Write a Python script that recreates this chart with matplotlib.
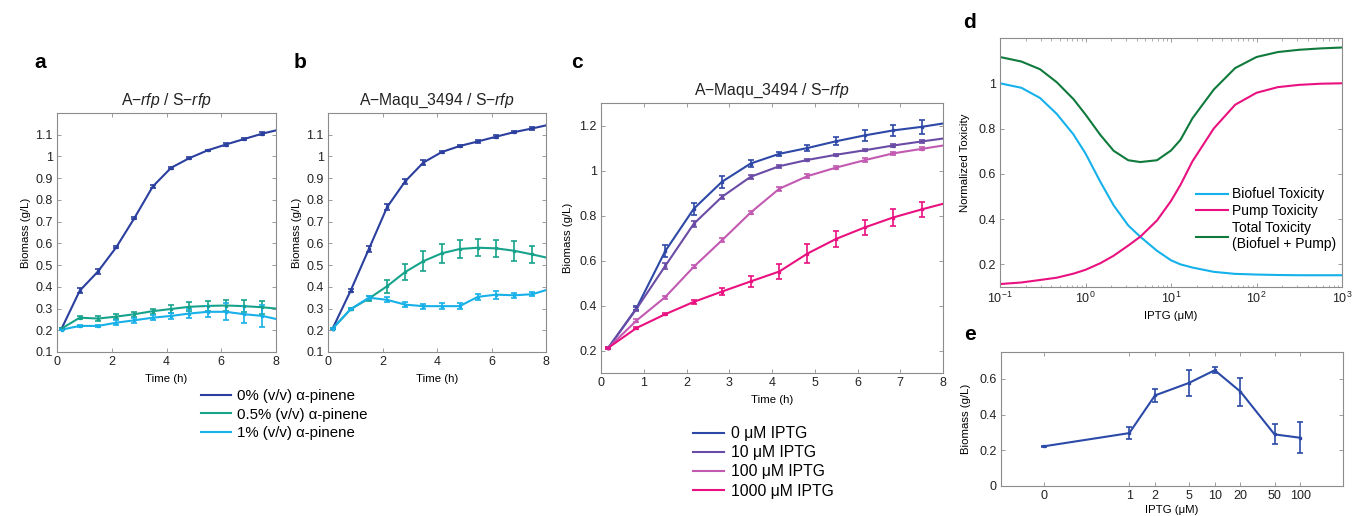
import numpy as np
import matplotlib.pyplot as plt
from matplotlib.ticker import FuncFormatter, NullLocator

plt.rcParams['font.family'] = ['Liberation Sans', 'DejaVu Sans']
plt.rcParams['mathtext.fontset'] = 'custom'
plt.rcParams['mathtext.rm'] = 'Liberation Sans'
plt.rcParams['mathtext.it'] = 'Liberation Sans:italic'
plt.rcParams['mathtext.bf'] = 'Liberation Sans:bold'

# sampling times (h) and the value where the fitted line meets the right edge
t = [0.17, 0.83, 1.5, 2.17, 2.83, 3.5, 4.17, 4.83, 5.5, 6.17, 6.83, 7.5]
t_end = 8.0

# panel a: A-rfp / S-rfp
a_p0 = [0.208, 0.382, 0.471, 0.583, 0.717, 0.862, 0.948, 0.992, 1.028, 1.055, 1.080, 1.105]
a_p0_end = 1.12
a_p0_err = [0.004, 0.012, 0.010, 0.006, 0.006, 0.005, 0.005, 0.004, 0.004, 0.005, 0.005, 0.006]
a_p05 = [0.208, 0.258, 0.254, 0.263, 0.274, 0.288, 0.298, 0.308, 0.312, 0.314, 0.311, 0.306]
a_p05_end = 0.300
a_p05_err = [0.004, 0.008, 0.010, 0.012, 0.012, 0.012, 0.017, 0.020, 0.025, 0.025, 0.027, 0.030]
a_p1 = [0.203, 0.220, 0.220, 0.235, 0.246, 0.258, 0.266, 0.277, 0.285, 0.285, 0.274, 0.266]
a_p1_end = 0.252
a_p1_err = [0.004, 0.006, 0.006, 0.010, 0.012, 0.012, 0.015, 0.022, 0.025, 0.040, 0.040, 0.050]

# panel b: A-Maqu_3494 / S-rfp
b_p0 = [0.208, 0.382, 0.574, 0.767, 0.885, 0.972, 1.020, 1.048, 1.069, 1.091, 1.112, 1.129]
b_p0_end = 1.143
b_p0_err = [0.004, 0.006, 0.012, 0.012, 0.012, 0.010, 0.006, 0.006, 0.006, 0.007, 0.006, 0.006]
b_p05 = [0.208, 0.297, 0.346, 0.403, 0.468, 0.518, 0.554, 0.574, 0.580, 0.577, 0.566, 0.549]
b_p05_end = 0.535
b_p05_err = [0.004, 0.005, 0.010, 0.030, 0.037, 0.045, 0.045, 0.040, 0.040, 0.040, 0.045, 0.040]
b_p1 = [0.208, 0.297, 0.350, 0.340, 0.318, 0.311, 0.311, 0.311, 0.354, 0.364, 0.361, 0.366]
b_p1_end = 0.385
b_p1_err = [0.004, 0.005, 0.010, 0.012, 0.012, 0.012, 0.013, 0.013, 0.015, 0.018, 0.012, 0.010]

pinene_labels = ['0% (v/v) \u03b1-pinene', '0.5% (v/v) \u03b1-pinene', '1% (v/v) \u03b1-pinene']
pinene_colors = ['#2b3f9e', '#17a38b', '#17b0e8']

# panel c: IPTG induction
c_0 = [0.212, 0.388, 0.641, 0.830, 0.950, 1.031, 1.074, 1.100, 1.130, 1.156, 1.178, 1.194]
c_0_end = 1.209
c_0_err = [0.005, 0.010, 0.026, 0.027, 0.027, 0.016, 0.010, 0.013, 0.018, 0.024, 0.026, 0.030]
c_10 = [0.212, 0.385, 0.575, 0.763, 0.883, 0.972, 1.019, 1.047, 1.070, 1.090, 1.111, 1.129]
c_10_end = 1.142
c_10_err = [0.005, 0.008, 0.012, 0.012, 0.010, 0.008, 0.006, 0.005, 0.005, 0.005, 0.005, 0.006]
c_100 = [0.212, 0.333, 0.437, 0.572, 0.690, 0.813, 0.919, 0.975, 1.013, 1.046, 1.076, 1.096]
c_100_end = 1.111
c_100_err = [0.005, 0.007, 0.006, 0.006, 0.008, 0.006, 0.008, 0.008, 0.008, 0.008, 0.008, 0.007]
c_1000 = [0.212, 0.300, 0.361, 0.416, 0.462, 0.507, 0.551, 0.631, 0.696, 0.747, 0.791, 0.827]
c_1000_end = 0.852
c_1000_err = [0.005, 0.004, 0.004, 0.010, 0.016, 0.024, 0.035, 0.044, 0.035, 0.033, 0.037, 0.033]

iptg_labels = ['0 \u03bcM IPTG', '10 \u03bcM IPTG', '100 \u03bcM IPTG', '1000 \u03bcM IPTG']
iptg_colors = ['#2d48a6', '#6a4ba6', '#c25ab2', '#e9117f']

# panel d: toxicity model
d_iptg = [0.1, 0.178, 0.294, 0.46, 0.723, 1, 1.49, 2.13, 3.16, 4.37, 6.86, 10, 12.9,
          17.8, 31.6, 56.2, 100, 178, 316, 562, 1000]
d_biofuel = [1.0, 0.98, 0.935, 0.865, 0.774, 0.69, 0.565, 0.461, 0.372, 0.322, 0.26, 0.218, 0.20,
             0.186, 0.167, 0.158, 0.155, 0.153, 0.152, 0.152, 0.152]
d_pump = [0.113, 0.12, 0.131, 0.141, 0.159, 0.176, 0.205, 0.238, 0.283, 0.322, 0.394, 0.48, 0.551,
          0.655, 0.80, 0.905, 0.958, 0.983, 0.993, 0.998, 1.0]
d_total = [1.116, 1.096, 1.062, 1.005, 0.93, 0.862, 0.772, 0.702, 0.66, 0.652, 0.66, 0.703, 0.75,
           0.845, 0.972, 1.067, 1.116, 1.138, 1.148, 1.154, 1.158]
d_labels = ['Biofuel Toxicity', 'Pump Toxicity', 'Total Toxicity\n(Biofuel + Pump)']
d_colors = ['#15b1ea', '#e9117f', '#0f7a3c']

# panel e: biomass vs IPTG
e_iptg = [0, 1, 2, 5, 10, 20, 50, 100]
e_biomass = [0.222, 0.296, 0.507, 0.577, 0.648, 0.528, 0.289, 0.270]
e_err = [0.003, 0.035, 0.037, 0.074, 0.017, 0.078, 0.056, 0.088]

W, H = 1353, 516
fig = plt.figure(figsize=(W / 100, H / 100), dpi=100)


def make_ax(left, right, top, bottom):
    ax = fig.add_axes([left / W, 1 - bottom / H, (right - left) / W, (bottom - top) / H])
    for s in ax.spines.values():
        s.set_color('#8c8c8c')
        s.set_linewidth(0.8)
    ax.tick_params(direction='in', top=True, right=True, length=3, width=0.6,
                   color='#8c8c8c', labelsize=9, labelcolor='#222222', pad=3)
    ax.tick_params(which='minor', direction='in', top=True, right=True, length=1.8,
                   width=0.5, color='#8c8c8c')
    return ax


gfmt = FuncFormatter(lambda v, p: f'{round(v, 3):g}')
LAB = 8.2


def growth(ax, vals, end, err, color):
    ax.plot(t + [t_end], vals + [end], color=color, lw=1.5)
    ax.errorbar(t, vals, yerr=err, fmt='s', ms=1.6, color=color, capsize=2.2,
                elinewidth=1.2, capthick=1.2)


# a and b
for left, right, title, sets in [
    (57, 276, 'A\u2212$\\it{rfp}$ / S\u2212$\\it{rfp}$',
     [(a_p0, a_p0_end, a_p0_err), (a_p05, a_p05_end, a_p05_err), (a_p1, a_p1_end, a_p1_err)]),
    (328, 546, 'A\u2212Maqu_3494 / S\u2212$\\it{rfp}$',
     [(b_p0, b_p0_end, b_p0_err), (b_p05, b_p05_end, b_p05_err), (b_p1, b_p1_end, b_p1_err)]),
]:
    ax = make_ax(left, right, 113, 352)
    for (v, e_, er), col in zip(sets, pinene_colors):
        growth(ax, v, e_, er, col)
    ax.set_xlim(0, 8)
    ax.set_ylim(0.1, 1.2)
    ax.set_xticks([0, 2, 4, 6, 8])
    ax.set_yticks(np.arange(1, 12) / 10)
    ax.yaxis.set_major_formatter(gfmt)
    ax.set_title(title, fontsize=11.3, pad=6, color='#222222')
    ax.set_xlabel('Time (h)', fontsize=LAB, labelpad=4)
    ax.set_ylabel('Biomass (g/L)', fontsize=LAB, labelpad=3)

pin_handles = [plt.Line2D([], [], color=c, lw=1.5) for c in pinene_colors]
fig.legend(pin_handles, pinene_labels, loc='upper left', bbox_to_anchor=(201 / W, 1 - 389 / H),
           frameon=False, fontsize=10.8, handlelength=2.0, handletextpad=0.4,
           labelspacing=0.3, borderpad=0, borderaxespad=0)

# c
ax = make_ax(601, 943, 103, 373)
for v, e_, er, col in zip([c_0, c_10, c_100, c_1000], [c_0_end, c_10_end, c_100_end, c_1000_end],
                          [c_0_err, c_10_err, c_100_err, c_1000_err], iptg_colors):
    growth(ax, v, e_, er, col)
ax.set_xlim(0, 8)
ax.set_ylim(0.1, 1.3)
ax.set_xticks(range(9))
ax.set_yticks([0.2, 0.4, 0.6, 0.8, 1.0, 1.2])
ax.yaxis.set_major_formatter(gfmt)
ax.set_title('A\u2212Maqu_3494 / S\u2212$\\it{rfp}$', fontsize=11.3, pad=6, color='#222222')
ax.set_xlabel('Time (h)', fontsize=LAB, labelpad=4)
ax.set_ylabel('Biomass (g/L)', fontsize=LAB, labelpad=5)

iptg_handles = [plt.Line2D([], [], color=c, lw=1.5) for c in iptg_colors]
fig.legend(iptg_handles, iptg_labels, loc='upper left', bbox_to_anchor=(693 / W, 1 - 426 / H),
           frameon=False, fontsize=11.3, handlelength=2.0, handletextpad=0.4,
           labelspacing=0.27, borderpad=0, borderaxespad=0)

# d
ax = make_ax(1000, 1342, 38, 287)
for vals, col in zip([d_biofuel, d_pump, d_total], d_colors):
    ax.plot(d_iptg, vals, color=col, lw=1.5)
ax.set_xscale('log')
ax.set_xlim(0.1, 1000)
ax.set_ylim(0.1, 1.2)
ax.set_yticks([0.2, 0.4, 0.6, 0.8, 1.0])
ax.yaxis.set_major_formatter(gfmt)
ax.set_xlabel('IPTG (\u03bcM)', fontsize=LAB, labelpad=3)
ax.set_ylabel('Normalized Toxicity', fontsize=LAB, labelpad=6)
ax.legend(ax.lines, d_labels, loc='upper left', bbox_to_anchor=(0.574, 0.40), frameon=False,
          fontsize=10, handlelength=2.3, handletextpad=0.25, labelspacing=0.2,
          borderpad=0, borderaxespad=0)

# e
ax = make_ax(1001, 1343, 352, 486)
e_pos = [0.1 if c == 0 else c for c in e_iptg]
ax.errorbar(e_pos, e_biomass, yerr=e_err, color='#2b4aa8', lw=1.5, capsize=2.2,
            elinewidth=1.2, capthick=1.2, marker='s', ms=1.6)
ax.set_xscale('log')
ax.set_xlim(10 ** -1.5, 10 ** 2.5)
ax.set_ylim(0, 0.75)
ax.set_xticks(e_pos)
ax.set_xticklabels([str(c) for c in e_iptg])
ax.xaxis.set_minor_locator(NullLocator())
ax.set_yticks([0, 0.2, 0.4, 0.6])
ax.yaxis.set_major_formatter(gfmt)
ax.set_xlabel('IPTG (\u03bcM)', fontsize=LAB, labelpad=2)
ax.set_ylabel('Biomass (g/L)', fontsize=LAB, labelpad=6)

for letter, x, y in [('a', 40, 62), ('b', 300, 62), ('c', 577, 62), ('d', 970, 22), ('e', 970, 335)]:
    fig.text(x / W, 1 - y / H, letter, fontsize=15, fontweight='bold', ha='center', va='center')

fig.savefig('out.png', dpi=100)
